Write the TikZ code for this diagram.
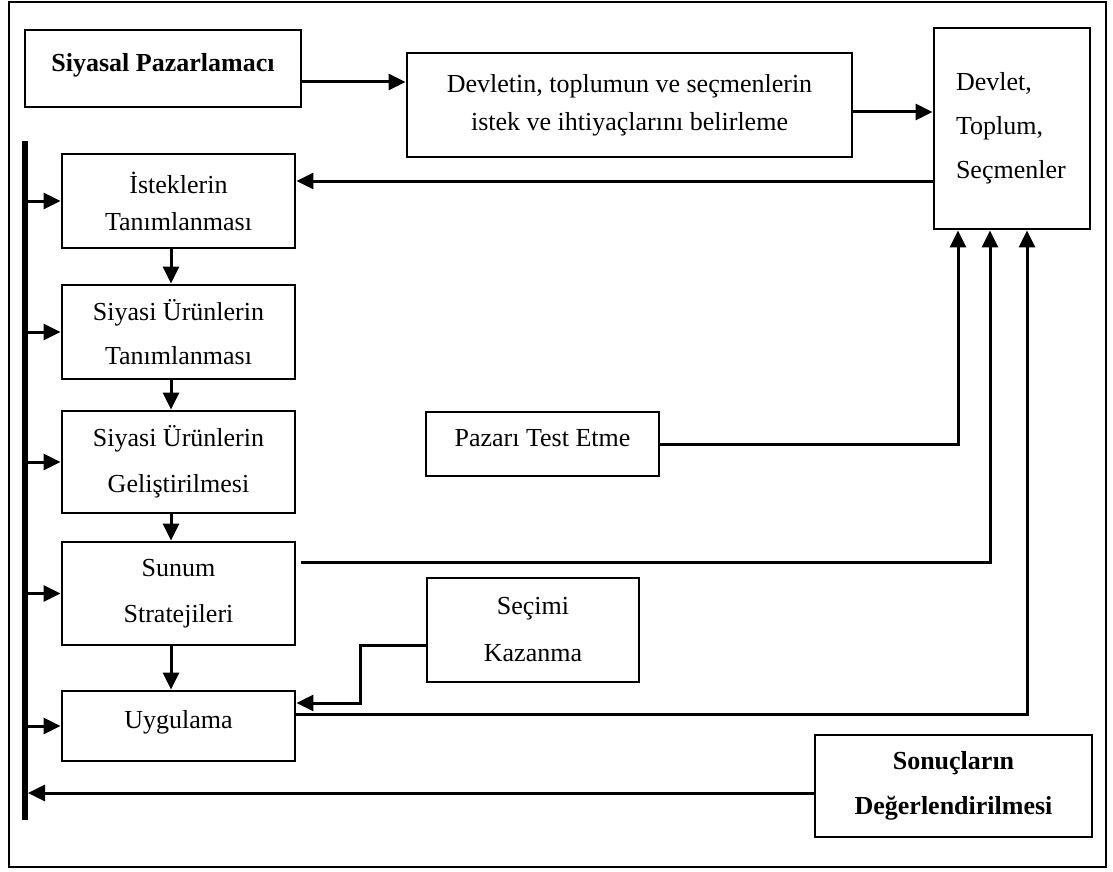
\documentclass[tikz,border=0pt]{standalone}
\usepackage{fontspec}
\setmainfont{Liberation Serif}
\usetikzlibrary{arrows.meta}
\begin{document}
\begin{tikzpicture}[x=1pt,y=-1pt,
  box/.style={draw, line width=2.8pt, inner sep=0pt, align=center,
    minimum width=233pt, font=\fontsize{26}{44}\selectfont},
  lh/.style={font=\fontsize{26}{#1}\selectfont},
  bold/.style={font=\fontsize{26}{45}\selectfont\bfseries},
  lift/.style={text depth=#1},
  link/.style={line width=3pt, -{Triangle[length=17pt,width=16pt]}},
]
\useasboundingbox (0,0) rectangle (1113,872);
\fill[white] (0,0) rectangle (1113,872);
% outer frame
\draw[line width=2.5pt] (9,2) rectangle (1106,867);

% feedback bar on the left
\draw[line width=6.5pt] (25,141) -- (25,820);
\coordinate (bartop) at (25,141);
\coordinate (baredge) at (28,141);

% top row
\node[box, bold, lift=13pt, minimum width=276pt, minimum height=77pt] (sp) at (163,68.5) {Siyasal Pazarlamacı};
\node[box, lh=38, minimum width=445pt, minimum height=104pt] (dv) at (629.5,105)
  {Devletin, toplumun ve seçmenlerin\\istek ve ihtiyaçlarını belirleme};
\node[box, lh=44, align=left, minimum width=156pt, text width=112pt, inner xsep=22pt,
  minimum height=201pt] (dl) at (1012,128.5) {Devlet,\\Toplum,\\Seçmenler};

% left column
\node[box, lh=37, minimum height=94pt] (is) at (178.5,201) {İsteklerin\\Tanımlanması};
\node[box, lh=44, minimum height=94pt] (st) at (178.5,332) {Siyasi Ürünlerin\\Tanımlanması};
\node[box, lh=46, minimum height=102pt] (gl) at (178.5,462) {Siyasi Ürünlerin\\Geliştirilmesi};
\node[box, lh=46, minimum height=103pt] (su) at (178.5,593.5) {Sunum\\Stratejileri};
\node[box, lift=14pt, minimum height=70pt] (uy) at (178.5,726) {Uygulama};

% middle and right boxes
\node[box, lift=12pt, minimum height=64pt] (pz) at (542.5,444) {Pazarı Test Etme};
\node[box, lh=47, minimum width=212pt, minimum height=104pt] (sk) at (533,630) {Seçimi\\Kazanma};
\node[box, bold, minimum width=277pt, minimum height=102pt] (sd) at (953.5,786)
  {Sonuçların\\Değerlendirilmesi};

% top arrows
\coordinate (a1) at ([yshift=-13.5pt]sp.east);
\draw[link] (a1) -- (a1 -| dv.west);
\coordinate (a2) at ([yshift=-7pt]dv.east);
\draw[link] (a2) -- (a2 -| dl.west);
\coordinate (a3) at ([yshift=20pt]is.east);
\draw[link] (a3 -| dl.west) -- (a3);

% downward chain
\foreach \u/\v in {is/st, st/gl, gl/su, su/uy}{
  \draw[link] ([xshift=-7.5pt]\u.south) -- ([xshift=-7.5pt]\v.north);
}

% bar feeding each step
\foreach \v in {is, st, gl, su, uy}{
  \draw[link] (bartop |- \v.west) -- (\v.west);
}

% feedback to Devlet, Toplum, Seçmenler
\draw[link] (pz.east) -| ([xshift=-54pt]dl.south);
\coordinate (c1) at ([xshift=5pt,yshift=31.5pt]su.east);
\draw[link] (c1) -| ([xshift=-22pt]dl.south);
\coordinate (c2) at ([yshift=12pt]uy.east);
\draw[link] (c2) -| ([xshift=15pt]dl.south);

% Seçimi Kazanma into Uygulama
\coordinate (d1) at ([yshift=-15pt]sk.west);
\coordinate (d2) at ([yshift=23pt]uy.east);
\draw[link] (d1) -- ++(-65,0) |- (d2);

% results back to the bar
\coordinate (e1) at ([yshift=-7pt]sd.west);
\draw[link] (e1) -- (e1 -| baredge);
\end{tikzpicture}
\end{document}
